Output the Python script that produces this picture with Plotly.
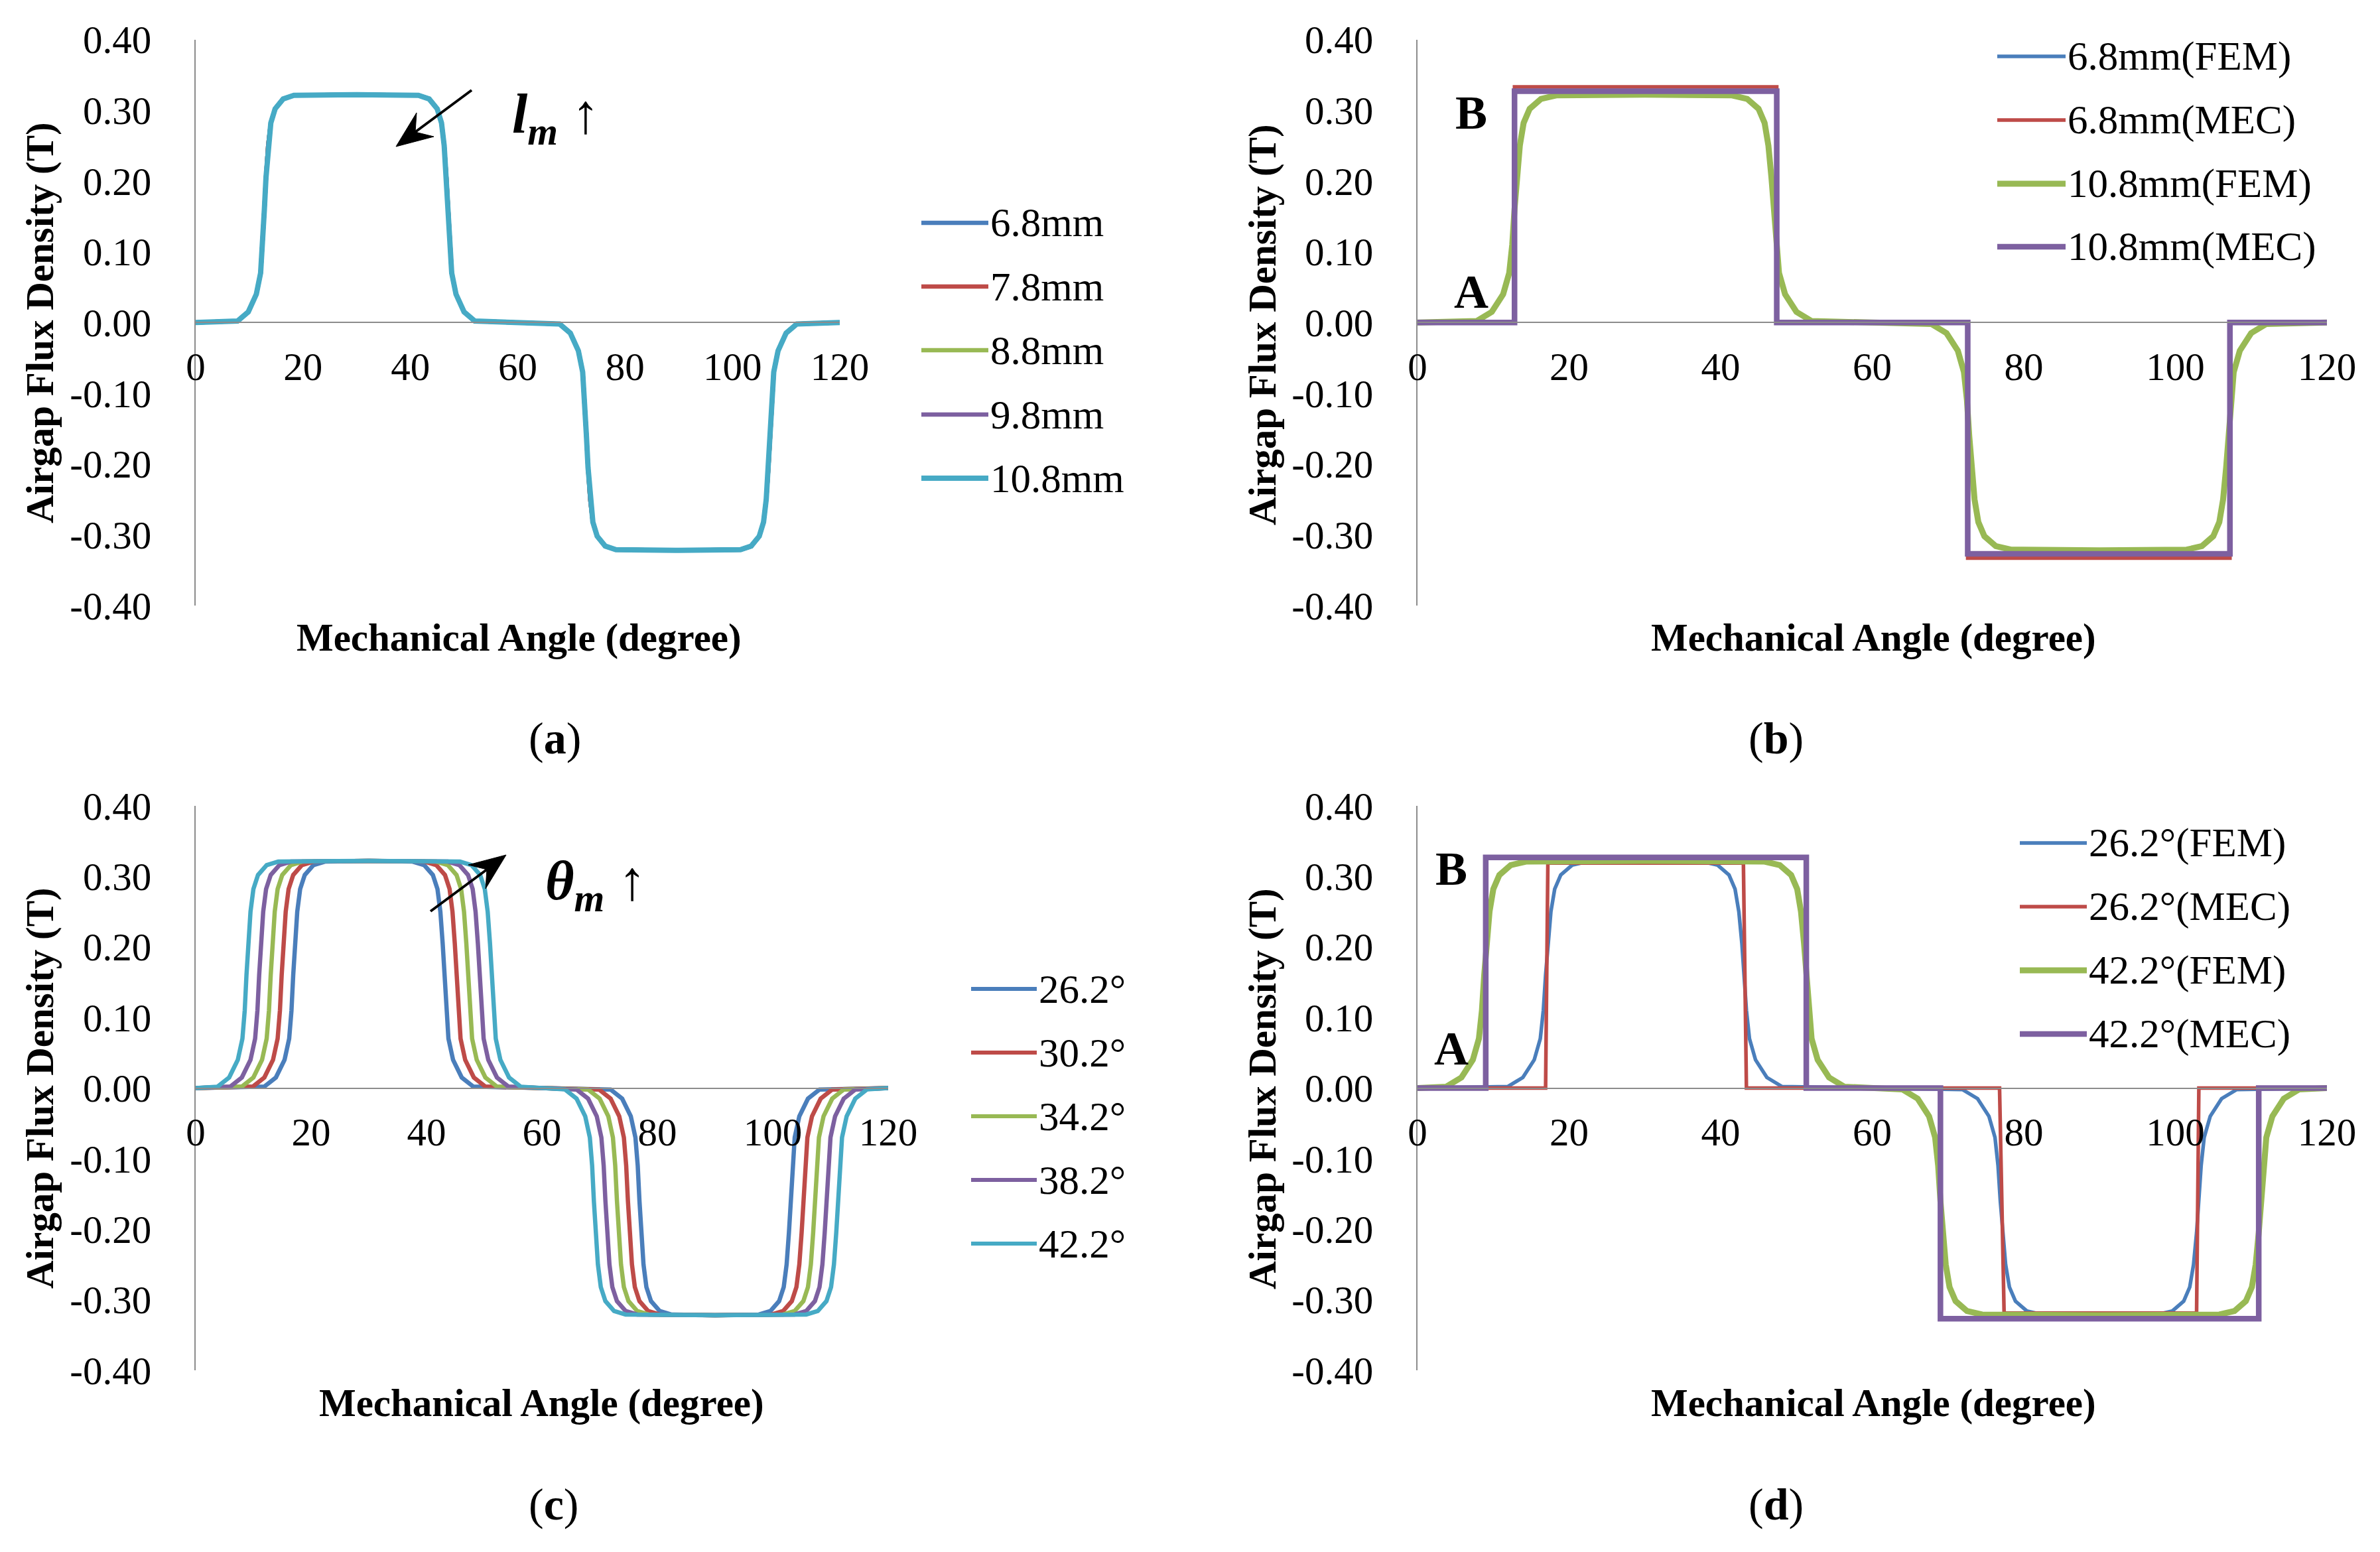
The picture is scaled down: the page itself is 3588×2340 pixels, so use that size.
import plotly.graph_objects as go

# ---------------- data ----------------
X_TICKS = [0, 20, 40, 60, 80, 100, 120]
X_TICK_TEXT = ["0", "20", "40", "60", "80", "100", "120"]
Y_TICKS = [0.4, 0.3, 0.2, 0.1, 0.0, -0.1, -0.2, -0.3, -0.4]
Y_TICK_TEXT = ["0.40", "0.30", "0.20", "0.10", "0.00", "-0.10", "-0.20", "-0.30", "-0.40"]

# FEM airgap flux density shape (T), one value per angle point below
B_FEM = [0.000,
         0.002, 0.015, 0.040, 0.070, 0.110, 0.160, 0.205, 0.250, 0.282, 0.302, 0.316, 0.321,
         0.322,
         0.321, 0.316, 0.302, 0.282, 0.250, 0.205, 0.160, 0.110, 0.070, 0.040, 0.015, 0.002,
         0.000,
         -0.002, -0.015, -0.040, -0.070, -0.110, -0.160, -0.205, -0.250, -0.282, -0.302, -0.316, -0.321,
         -0.322,
         -0.321, -0.316, -0.302, -0.282, -0.250, -0.205, -0.160, -0.110, -0.070, -0.040, -0.015, -0.002,
         0.000]

# mechanical angle (degree) for the l_m curves (panels a, b)
ANGLE_LM = [0,
            7.8, 9.8, 11.3, 12.1, 12.5, 12.8, 13.1, 13.5, 14.0, 14.8, 16.3, 18.3,
            30,
            41.5, 43.5, 45.0, 45.8, 46.3, 46.7, 47.0, 47.3, 47.7, 48.5, 50.0, 52.0,
            60,
            67.8, 69.8, 71.3, 72.1, 72.5, 72.8, 73.1, 73.5, 74.0, 74.8, 76.3, 78.3,
            90,
            101.5, 103.5, 105.0, 105.8, 106.3, 106.7, 107.0, 107.3, 107.7, 108.5, 110.0, 112.0,
            120]

# mechanical angle (degree) for the theta_m curves (panels c, d)
ANGLE_26_2 = [0,
              11.9, 13.9, 15.4, 16.2, 16.6, 16.9, 17.2, 17.6, 18.1, 18.9, 20.4, 22.4,
              30,
              37.6, 39.6, 41.1, 41.9, 42.4, 42.8, 43.1, 43.4, 43.8, 44.6, 46.1, 48.1,
              60,
              71.9, 73.9, 75.4, 76.2, 76.6, 76.9, 77.2, 77.6, 78.1, 78.9, 80.4, 82.4,
              90,
              97.6, 99.6, 101.1, 101.9, 102.4, 102.8, 103.1, 103.4, 103.8, 104.6, 106.1, 108.1,
              120]
ANGLE_30_2 = [0,
              9.9, 11.9, 13.4, 14.2, 14.6, 14.9, 15.2, 15.6, 16.1, 16.9, 18.4, 20.4,
              30,
              39.7, 41.7, 43.2, 44.0, 44.5, 44.9, 45.2, 45.5, 45.9, 46.7, 48.2, 50.2,
              60,
              69.9, 71.9, 73.4, 74.2, 74.6, 74.9, 75.2, 75.6, 76.1, 76.9, 78.4, 80.4,
              90,
              99.8, 101.8, 103.3, 104.1, 104.6, 105.0, 105.3, 105.6, 106.0, 106.8, 108.3, 110.3,
              120]
ANGLE_34_2 = [0,
              8.0, 10.0, 11.5, 12.3, 12.7, 13.0, 13.3, 13.7, 14.2, 15.0, 16.5, 18.5,
              30,
              41.7, 43.7, 45.2, 46.0, 46.5, 46.9, 47.2, 47.5, 47.9, 48.7, 50.2, 52.2,
              60,
              68.0, 70.0, 71.5, 72.3, 72.7, 73.0, 73.3, 73.7, 74.2, 75.0, 76.5, 78.5,
              90,
              101.8, 103.8, 105.3, 106.1, 106.6, 107.0, 107.3, 107.6, 108.0, 108.8, 110.3, 112.3,
              120]
ANGLE_38_2 = [0,
              6.0, 8.0, 9.5, 10.3, 10.7, 11.0, 11.3, 11.7, 12.2, 13.0, 14.5, 16.5,
              30,
              43.7, 45.7, 47.2, 48.0, 48.5, 48.9, 49.2, 49.5, 49.9, 50.7, 52.2, 54.2,
              60,
              66.0, 68.0, 69.5, 70.3, 70.7, 71.0, 71.3, 71.7, 72.2, 73.0, 74.5, 76.5,
              90,
              103.8, 105.8, 107.3, 108.1, 108.6, 109.0, 109.3, 109.6, 110.0, 110.8, 112.3, 114.3,
              120]
ANGLE_42_2 = [0,
              3.8, 5.8, 7.3, 8.1, 8.5, 8.8, 9.1, 9.5, 10.0, 10.8, 12.3, 14.3,
              30,
              45.8, 47.8, 49.3, 50.1, 50.6, 51.0, 51.3, 51.6, 52.0, 52.8, 54.3, 56.3,
              60,
              64.0, 66.0, 67.5, 68.3, 68.7, 69.0, 69.3, 69.7, 70.2, 71.0, 72.5, 74.5,
              90,
              105.8, 107.8, 109.3, 110.1, 110.6, 111.0, 111.3, 111.6, 112.0, 112.8, 114.3, 116.3,
              120]

# MEC (magnetic equivalent circuit) step waveforms
MEC_ANGLE_LM = [0, 12.8, 12.8, 47.4, 47.4, 72.6, 72.6, 107.2, 107.2, 120]
MEC_B_6_8 = [0, 0, 0.333, 0.333, 0, 0, -0.333, -0.333, 0, 0]
MEC_B_10_8 = [0, 0, 0.327, 0.327, 0, 0, -0.327, -0.327, 0, 0]
MEC_ANGLE_26_2 = [0, 16.9, 17.2, 43.0, 43.4, 76.8, 77.4, 102.8, 103.1, 120]
MEC_B_26_2 = [0, 0, 0.319, 0.319, 0, 0, -0.319, -0.319, 0, 0]
MEC_ANGLE_42_2 = [0, 9.0, 9.0, 51.3, 51.3, 69.0, 69.0, 111.0, 111.0, 120]
MEC_B_42_2 = [0, 0, 0.327, 0.327, 0, 0, -0.327, -0.327, 0, 0]

LM_LABELS = ["6.8mm", "7.8mm", "8.8mm", "9.8mm", "10.8mm"]
THETA_LABELS = ["26.2°", "30.2°", "34.2°", "38.2°", "42.2°"]
B_LABELS = ["6.8mm(FEM)", "6.8mm(MEC)", "10.8mm(FEM)", "10.8mm(MEC)"]
D_LABELS = ["26.2°(FEM)", "26.2°(MEC)", "42.2°(FEM)", "42.2°(MEC)"]

# ---------------- style ----------------
W, H = 3588, 2340
OFF = 8  # default page margin of the html body
FW, FH = W - 2 * OFF, H - 2 * OFF
SERIF = "Liberation Serif"
BLUE, RED, GREEN, PURPLE, CYAN = "#4A7EBB", "#BE4B48", "#98B954", "#7D60A0", "#46AAC5"
AXIS_GREY = "#8c8c8c"
TICK_SIZE = 59
LEG_SIZE = 61
TITLE_SIZE = 59


def px(x):
    return (x - OFF) / FW


def py(y):
    return 1 - (y - OFF) / FH


fig = go.Figure()


def add(x, y, name, color, width, ax):
    fig.add_trace(go.Scatter(x=x, y=y, name=name, mode="lines",
                             line=dict(color=color, width=width),
                             xaxis="x" + ax, yaxis="y" + ax,
                             showlegend=False, hoverinfo="skip"))


# (a)
lm_colors = [BLUE, RED, GREEN, PURPLE, CYAN]
lm_widths = [6.5, 6.5, 6.5, 6.5, 8]
for lab, c, w in zip(LM_LABELS, lm_colors, lm_widths):
    add(ANGLE_LM, B_FEM, lab, c, w, "")

# (b)
add(ANGLE_LM, B_FEM, B_LABELS[0], BLUE, 5.5, "2")
add(MEC_ANGLE_LM, MEC_B_6_8, B_LABELS[1], RED, 5.5, "2")
add(ANGLE_LM, B_FEM, B_LABELS[2], GREEN, 9, "2")
add(MEC_ANGLE_LM, MEC_B_10_8, B_LABELS[3], PURPLE, 8.5, "2")

# (c)
theta_angles = [ANGLE_26_2, ANGLE_30_2, ANGLE_34_2, ANGLE_38_2, ANGLE_42_2]
for lab, ang, c in zip(THETA_LABELS, theta_angles, lm_colors):
    add(ang, B_FEM, lab, c, 6.5, "3")

# (d)
add(ANGLE_26_2, B_FEM, D_LABELS[0], BLUE, 5.5, "4")
add(MEC_ANGLE_26_2, MEC_B_26_2, D_LABELS[1], RED, 5.5, "4")
add(ANGLE_42_2, B_FEM, D_LABELS[2], GREEN, 9, "4")
add(MEC_ANGLE_42_2, MEC_B_42_2, D_LABELS[3], PURPLE, 8.5, "4")

# ---------------- axes ----------------
panels = {
    "": dict(x=(295, 1266), y=(59.5, 913)),
    "2": dict(x=(2137, 3508), y=(59.5, 913)),
    "3": dict(x=(295, 1339), y=(1215, 2066)),
    "4": dict(x=(2137, 3508), y=(1215, 2066)),
}
layout = {}
for k, p in panels.items():
    (x0, x1), (yt, yb) = p["x"], p["y"]
    ydom = [py(yb), py(yt)]
    zero = (ydom[0] + ydom[1]) / 2
    layout["xaxis" + k] = dict(
        domain=[px(x0), px(x1)], range=[0, 120], anchor="free", position=zero,
        showline=True, linecolor=AXIS_GREY, linewidth=2, showgrid=False, zeroline=False,
        tickvals=X_TICKS, ticktext=X_TICK_TEXT, ticks="", ticklabelstandoff=15,
        automargin=False,
        tickfont=dict(family=SERIF, size=TICK_SIZE, color="black"), fixedrange=True)
    layout["yaxis" + k] = dict(
        domain=ydom, range=[-0.4, 0.4], anchor="x" + k,
        showline=True, linecolor=AXIS_GREY, linewidth=2, showgrid=False, zeroline=False,
        tickvals=Y_TICKS, ticktext=Y_TICK_TEXT, ticks="", ticklabelstandoff=53,
        automargin=False,
        tickfont=dict(family=SERIF, size=TICK_SIZE, color="black"), fixedrange=True)

annotations = []
shapes = []


def text(x, y, t, size, angle=0, anchor="center", weight="normal"):
    annotations.append(dict(x=px(x), y=py(y), xref="paper", yref="paper", text=t,
                            showarrow=False, textangle=angle, xanchor=anchor, yanchor="middle",
                            font=dict(family=SERIF, size=size, color="black", weight=weight)))


# axis titles
for cx, cy in [(782, 961), (2824, 961), (816, 2115), (2824, 2115)]:
    text(cx, cy, "Mechanical Angle (degree)", TITLE_SIZE, weight="bold")
for cx, cy in [(60, 487), (1903, 489), (60, 1641), (1903, 1641)]:
    text(cx, cy, "Airgap Flux Density (T)", TITLE_SIZE, angle=-90, weight="bold")

# captions
for cx, cy, lab in [(836, 1113, "a"), (2677, 1113, "b"), (835, 2268, "c"), (2677, 2268, "d")]:
    text(cx, cy, "(<b>%s</b>)" % lab, 68)


# manual legends (long line samples as in the reference)
def legend(x_line0, x_line1, x_text, rows, labels, colors, widths):
    for r, lab, c, w in zip(rows, labels, colors, widths):
        shapes.append(dict(type="line", xref="paper", yref="paper",
                           x0=px(x_line0), x1=px(x_line1), y0=py(r), y1=py(r),
                           line=dict(color=c, width=w)))
        text(x_text, r, lab, LEG_SIZE, anchor="left")


legend(1389, 1490, 1491, [336, 432, 528, 625, 721], LM_LABELS, lm_colors, [6.5, 6.5, 6.5, 6.5, 8])
legend(3011, 3114, 3115, [85, 181, 277, 372], B_LABELS, [BLUE, RED, GREEN, PURPLE], [5.5, 5.5, 9, 8.5])
legend(1464, 1563, 1564, [1491, 1587, 1683, 1779, 1875], THETA_LABELS, lm_colors, [6, 6, 6, 6, 6])
legend(3045, 3146, 3147, [1271, 1367, 1463, 1559], D_LABELS, [BLUE, RED, GREEN, PURPLE], [5.5, 5.5, 9, 8.5])

# A / B markers
for cx, cy, t in [(2218, 170, "B"), (2218, 440, "A"), (2188, 1310, "B"), (2188, 1581, "A")]:
    text(cx, cy, t, 72, weight="bold")


# trend arrows drawn as a shaft + notched filled head
def arrow(tail, tip, notch, base_l, base_r):
    shapes.append(dict(type="line", xref="paper", yref="paper",
                       x0=px(tail[0]), y0=py(tail[1]), x1=px(notch[0]), y1=py(notch[1]),
                       line=dict(color="black", width=4)))
    pts = [tip, base_l, notch, base_r]
    path = "M " + " L ".join("%f,%f" % (px(a), py(b)) for a, b in pts) + " Z"
    shapes.append(dict(type="path", xref="paper", yref="paper", path=path,
                       fillcolor="black", line=dict(color="black", width=1)))


arrow((711, 136), (597, 221), (626, 199), (654, 206), (628, 170))
text(838, 178, "<i>l</i><sub><i>m</i></sub> ↑", 84, weight="bold")
arrow((649, 1374), (763, 1289), (734, 1311), (732, 1340), (706, 1304))
text(898, 1334, "<i>θ</i><sub><i>m</i></sub> ↑", 84, weight="bold")

fig.update_layout(
    width=FW, height=FH, autosize=False,
    margin=dict(l=0, r=0, t=0, b=0, pad=0, autoexpand=False),
    paper_bgcolor="white", plot_bgcolor="white",
    showlegend=False,
    annotations=annotations, shapes=shapes,
    font=dict(family=SERIF, color="black"),
    **layout)

fig.write_html("out.html")
